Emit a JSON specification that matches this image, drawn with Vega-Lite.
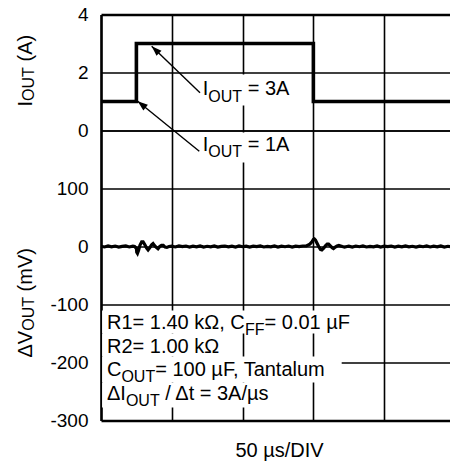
{
  "$schema": "https://vega.github.io/schema/vega-lite/v6.json",
  "padding": {"left": 16, "top": 5.5, "right": 0, "bottom": 0},
  "spacing": 0,
  "bounds": "flush",
  "config": {
    "font": "Liberation Sans",
    "view": {"stroke": null},
    "axis": {
      "labelFont": "Liberation Sans",
      "labelFontSize": 19,
      "labelColor": "black",
      "ticks": false,
      "tickSize": 0,
      "labelPadding": 13,
      "gridColor": "black",
      "gridOpacity": 1,
      "domainColor": "black",
      "domainWidth": 2.5
    }
  },
  "datasets": {
    "current": [
      {"t": 0, "i": 1}, {"t": 1, "i": 3}, {"t": 6, "i": 1}, {"t": 9.86, "i": 1}
    ],
    "vout": [
      {"t": 0, "v": 0.5}, {"t": 0.1, "v": -0.8}, {"t": 0.2, "v": 1}, {"t": 0.3, "v": -0.5}, {"t": 0.4, "v": 0.8},
      {"t": 0.5, "v": -1}, {"t": 0.6, "v": 0.3}, {"t": 0.7, "v": 1}, {"t": 0.8, "v": -0.8}, {"t": 0.9, "v": 0.5},
      {"t": 0.95, "v": 0}, {"t": 1.0, "v": -3}, {"t": 1.01, "v": -10}, {"t": 1.03, "v": -12}, {"t": 1.06, "v": -7},
      {"t": 1.1, "v": 2}, {"t": 1.15, "v": 8}, {"t": 1.19, "v": 8}, {"t": 1.24, "v": 3}, {"t": 1.29, "v": -3},
      {"t": 1.33, "v": -6}, {"t": 1.38, "v": -2}, {"t": 1.43, "v": 3}, {"t": 1.47, "v": 5}, {"t": 1.52, "v": 1},
      {"t": 1.57, "v": -2}, {"t": 1.61, "v": -4}, {"t": 1.66, "v": 0}, {"t": 1.71, "v": 2}, {"t": 1.76, "v": 2},
      {"t": 1.81, "v": -1}, {"t": 1.86, "v": -1.5}, {"t": 1.92, "v": 0},
      {"t": 2.0, "v": 0.5}, {"t": 2.1, "v": -0.8}, {"t": 2.2, "v": 1}, {"t": 2.3, "v": -0.3}, {"t": 2.4, "v": 0.8},
      {"t": 2.5, "v": -1}, {"t": 2.6, "v": 0.6}, {"t": 2.7, "v": -0.5}, {"t": 2.8, "v": 1.1}, {"t": 2.9, "v": -0.9},
      {"t": 3.0, "v": 0.4}, {"t": 3.1, "v": -0.6}, {"t": 3.2, "v": 0.9}, {"t": 3.3, "v": -1.1}, {"t": 3.4, "v": 0.2},
      {"t": 3.5, "v": 0.8}, {"t": 3.6, "v": -0.7}, {"t": 3.7, "v": 0.5}, {"t": 3.8, "v": -0.9}, {"t": 3.9, "v": 1},
      {"t": 4.0, "v": -0.4}, {"t": 4.1, "v": 0.7}, {"t": 4.2, "v": -1}, {"t": 4.3, "v": 0.6}, {"t": 4.4, "v": -0.2},
      {"t": 4.5, "v": 0.9}, {"t": 4.6, "v": -0.8}, {"t": 4.7, "v": 0.3}, {"t": 4.8, "v": -0.6}, {"t": 4.9, "v": 1},
      {"t": 5.0, "v": -0.9}, {"t": 5.1, "v": 0.5}, {"t": 5.2, "v": -0.4}, {"t": 5.3, "v": 0.8}, {"t": 5.4, "v": -1},
      {"t": 5.5, "v": 0.6}, {"t": 5.6, "v": -0.3}, {"t": 5.7, "v": 0.9},
      {"t": 5.8, "v": 1}, {"t": 5.9, "v": 4}, {"t": 5.96, "v": 8}, {"t": 6.0, "v": 12}, {"t": 6.03, "v": 13},
      {"t": 6.06, "v": 11}, {"t": 6.1, "v": 6}, {"t": 6.15, "v": 0}, {"t": 6.2, "v": -5}, {"t": 6.24, "v": -6},
      {"t": 6.29, "v": -3}, {"t": 6.34, "v": 1}, {"t": 6.39, "v": 4}, {"t": 6.43, "v": 4}, {"t": 6.48, "v": 1},
      {"t": 6.53, "v": -2}, {"t": 6.57, "v": -3.5}, {"t": 6.62, "v": -1}, {"t": 6.67, "v": 1}, {"t": 6.72, "v": 2},
      {"t": 6.77, "v": 1}, {"t": 6.82, "v": 0}, {"t": 6.88, "v": -1}, {"t": 6.95, "v": 0},
      {"t": 7.0, "v": 0.6}, {"t": 7.1, "v": -0.9}, {"t": 7.2, "v": 0.8}, {"t": 7.3, "v": -0.4}, {"t": 7.4, "v": 1},
      {"t": 7.5, "v": -0.8}, {"t": 7.6, "v": 0.3}, {"t": 7.7, "v": -0.6}, {"t": 7.8, "v": 0.9}, {"t": 7.9, "v": -1},
      {"t": 8.0, "v": 0.5}, {"t": 8.1, "v": -0.3}, {"t": 8.2, "v": 0.8}, {"t": 8.3, "v": -0.9}, {"t": 8.4, "v": 0.6},
      {"t": 8.5, "v": -0.5}, {"t": 8.6, "v": 1}, {"t": 8.7, "v": -0.7}, {"t": 8.8, "v": 0.4}, {"t": 8.9, "v": -1},
      {"t": 9.0, "v": 0.7}, {"t": 9.1, "v": -0.4}, {"t": 9.2, "v": 0.9}, {"t": 9.3, "v": -0.8}, {"t": 9.4, "v": 0.5},
      {"t": 9.5, "v": -0.6}, {"t": 9.6, "v": 1}, {"t": 9.7, "v": -0.9}, {"t": 9.8, "v": 0.4}, {"t": 9.86, "v": -0.3}
    ],
    "topBoxes": [
      {"x": 2.797, "x2": 5.424, "y": 1.931, "y2": 0.862}
    ],
    "bottomBoxes": [
      {"x": 2.797, "x2": 5.424, "y": 196.6, "y2": 144.8},
      {"x": 0.03, "x2": 7.26, "y": -110.3, "y2": -150.0},
      {"x": 0.03, "x2": 3.59, "y": -150.0, "y2": -189.7},
      {"x": 0.03, "x2": 6.8, "y": -189.7, "y2": -234.5},
      {"x": 0.03, "x2": 4.83, "y": -234.5, "y2": -277.6}
    ],
    "arrows": [
      {"label": "3A", "x": 2.797, "y": 1.30, "x2": 1.432, "y2": 2.907},
      {"label": "1A", "x": 2.777, "y": -0.714, "x2": 1.037, "y2": 1.010}
    ],
    "topText": [
      {"x": 2.873, "y": 1.241, "text": "I", "kind": "main"},
      {"x": 3.031, "y": 1.241, "text": "OUT", "kind": "sub"},
      {"x": 4.144, "y": 1.241, "text": "= 3A", "kind": "main"},
      {"x": -1.949, "y": 0.828, "text": "I", "kind": "tmain"},
      {"x": -1.949, "y": 1.021, "text": "OUT", "kind": "tsub"},
      {"x": -1.949, "y": 2.379, "text": "(A)", "kind": "tmain"}
    ],
    "bottomText": [
      {"x": 2.873, "y": 163.8, "text": "I", "kind": "main"},
      {"x": 3.031, "y": 163.8, "text": "OUT", "kind": "sub"},
      {"x": 4.144, "y": 163.8, "text": "= 1A", "kind": "main"},
      {"x": 0.169, "y": -141.4, "text": "R1= 1.40 kΩ, C", "kind": "main"},
      {"x": 4.07, "y": -141.4, "text": "FF", "kind": "sub"},
      {"x": 4.62, "y": -141.4, "text": "= 0.01 µF", "kind": "main"},
      {"x": 0.169, "y": -182.8, "text": "R2= 1.00 kΩ", "kind": "main"},
      {"x": 0.169, "y": -224.1, "text": "C", "kind": "main"},
      {"x": 0.576, "y": -224.1, "text": "OUT", "kind": "sub"},
      {"x": 1.531, "y": -224.1, "text": "= 100 µF, Tantalum", "kind": "main"},
      {"x": 0.169, "y": -263.8, "text": "ΔI", "kind": "main"},
      {"x": 0.703, "y": -263.8, "text": "OUT", "kind": "sub"},
      {"x": 1.816, "y": -263.8, "text": "/ Δt = 3A/µs", "kind": "main"},
      {"x": -1.949, "y": -191.4, "text": "ΔV", "kind": "tmain"},
      {"x": -1.949, "y": -145.3, "text": "OUT", "kind": "tsub"},
      {"x": -1.949, "y": -77.4, "text": "(mV)", "kind": "tmain"}
    ]
  },
  "vconcat": [
    {
      "width": 349,
      "height": 116,
      "layer": [
        {
          "data": {"name": "topBoxes"},
          "mark": {"type": "rect", "fill": "white", "clip": false},
          "encoding": {
            "x": {"field": "x", "type": "quantitative", "scale": {"domain": [0, 9.86], "nice": false},
              "axis": {"values": [0, 1, 2, 3, 4, 5, 6, 7, 8, 9], "labels": false, "domain": false, "grid": true, "gridWidth": 1.6, "title": null}},
            "x2": {"field": "x2"},
            "y": {"field": "y", "type": "quantitative", "scale": {"domain": [0, 4], "nice": false},
              "axis": {"values": [0, 2, 4], "grid": true, "gridWidth": {"condition": {"test": "datum.value == 4", "value": 2.5}, "value": 1.7}, "labelExpr": "'' + datum.value", "title": null}},
            "y2": {"field": "y2"}
          }
        },
        {
          "data": {"name": "current"},
          "mark": {"type": "line", "interpolate": "step-after", "color": "black", "strokeWidth": 3.6, "clip": false},
          "encoding": {
            "x": {"field": "t", "type": "quantitative"},
            "y": {"field": "i", "type": "quantitative"}
          }
        },
        {
          "data": {"name": "arrows"},
          "mark": {"type": "rule", "color": "black", "strokeWidth": 1.4, "clip": false},
          "encoding": {
            "x": {"field": "x", "type": "quantitative"},
            "y": {"field": "y", "type": "quantitative"},
            "x2": {"field": "x2"},
            "y2": {"field": "y2"}
          }
        },
        {
          "data": {"name": "arrows"},
          "transform": [{"filter": "datum.label == '3A'"}],
          "mark": {"type": "point", "shape": "M0,0L-1.2,3.4L1.2,3.4Z", "size": 36, "filled": true, "color": "black", "opacity": 1, "angle": 314, "clip": false},
          "encoding": {
            "x": {"field": "x2", "type": "quantitative"},
            "y": {"field": "y2", "type": "quantitative"}
          }
        },
        {
          "data": {"name": "arrows"},
          "transform": [{"filter": "datum.label == '1A'"}],
          "mark": {"type": "point", "shape": "M0,0L-1.2,3.4L1.2,3.4Z", "size": 36, "filled": true, "color": "black", "opacity": 1, "angle": 309, "clip": false},
          "encoding": {
            "x": {"field": "x2", "type": "quantitative"},
            "y": {"field": "y2", "type": "quantitative"}
          }
        },
        {
          "data": {"name": "topText"},
          "transform": [{"filter": "datum.kind == 'main'"}],
          "mark": {"type": "text", "align": "left", "baseline": "alphabetic", "fontSize": 20, "fill": "black", "clip": false},
          "encoding": {
            "x": {"field": "x", "type": "quantitative"},
            "y": {"field": "y", "type": "quantitative"},
            "text": {"field": "text"}
          }
        },
        {
          "data": {"name": "topText"},
          "transform": [{"filter": "datum.kind == 'sub'"}],
          "mark": {"type": "text", "align": "left", "baseline": "alphabetic", "fontSize": 16, "dy": 7, "fill": "black", "clip": false},
          "encoding": {
            "x": {"field": "x", "type": "quantitative"},
            "y": {"field": "y", "type": "quantitative"},
            "text": {"field": "text"}
          }
        },
        {
          "data": {"name": "topText"},
          "transform": [{"filter": "datum.kind == 'tmain'"}],
          "mark": {"type": "text", "align": "left", "baseline": "alphabetic", "angle": 270, "fontSize": 20, "fill": "black", "clip": false},
          "encoding": {
            "x": {"field": "x", "type": "quantitative"},
            "y": {"field": "y", "type": "quantitative"},
            "text": {"field": "text"}
          }
        },
        {
          "data": {"name": "topText"},
          "transform": [{"filter": "datum.kind == 'tsub'"}],
          "mark": {"type": "text", "align": "left", "baseline": "alphabetic", "angle": 270, "fontSize": 16, "dy": 2, "fill": "black", "clip": false},
          "encoding": {
            "x": {"field": "x", "type": "quantitative"},
            "y": {"field": "y", "type": "quantitative"},
            "text": {"field": "text"}
          }
        }
      ]
    },
    {
      "width": 349,
      "height": 290,
      "layer": [
        {
          "data": {"name": "bottomBoxes"},
          "mark": {"type": "rect", "fill": "white", "clip": false},
          "encoding": {
            "x": {"field": "x", "type": "quantitative", "scale": {"domain": [0, 9.86], "nice": false},
              "axis": {"values": [0, 1, 2, 3, 4, 5, 6, 7, 8, 9], "labels": false, "domain": false, "grid": true, "gridWidth": 1.6,
                "title": "50 µs/DIV", "titleFont": "Liberation Sans", "titleFontSize": 20, "titleFontWeight": "normal", "titleColor": "black",
                "titleX": 178, "titleY": 36, "titleBaseline": "alphabetic", "titleAlign": "center"}},
            "x2": {"field": "x2"},
            "y": {"field": "y", "type": "quantitative", "scale": {"domain": [-300, 200], "nice": false},
              "axis": {"values": [-300, -200, -100, 0, 100, 200], "grid": true, "gridWidth": {"condition": {"test": "datum.value == -300", "value": 2.5}, "value": 1.7}, "labelExpr": "datum.value == 200 ? '' : '' + datum.value", "title": null}},
            "y2": {"field": "y2"}
          }
        },
        {
          "data": {"name": "vout"},
          "mark": {"type": "line", "color": "black", "strokeWidth": 3.2, "clip": false},
          "encoding": {
            "x": {"field": "t", "type": "quantitative"},
            "y": {"field": "v", "type": "quantitative"}
          }
        },
        {
          "data": {"name": "bottomText"},
          "transform": [{"filter": "datum.kind == 'main'"}],
          "mark": {"type": "text", "align": "left", "baseline": "alphabetic", "fontSize": 20, "fill": "black", "clip": false},
          "encoding": {
            "x": {"field": "x", "type": "quantitative"},
            "y": {"field": "y", "type": "quantitative"},
            "text": {"field": "text"}
          }
        },
        {
          "data": {"name": "bottomText"},
          "transform": [{"filter": "datum.kind == 'sub'"}],
          "mark": {"type": "text", "align": "left", "baseline": "alphabetic", "fontSize": 16, "dy": 6, "fill": "black", "clip": false},
          "encoding": {
            "x": {"field": "x", "type": "quantitative"},
            "y": {"field": "y", "type": "quantitative"},
            "text": {"field": "text"}
          }
        },
        {
          "data": {"name": "bottomText"},
          "transform": [{"filter": "datum.kind == 'tmain'"}],
          "mark": {"type": "text", "align": "left", "baseline": "alphabetic", "angle": 270, "fontSize": 20, "fill": "black", "clip": false},
          "encoding": {
            "x": {"field": "x", "type": "quantitative"},
            "y": {"field": "y", "type": "quantitative"},
            "text": {"field": "text"}
          }
        },
        {
          "data": {"name": "bottomText"},
          "transform": [{"filter": "datum.kind == 'tsub'"}],
          "mark": {"type": "text", "align": "left", "baseline": "alphabetic", "angle": 270, "fontSize": 16, "dy": 2, "fill": "black", "clip": false},
          "encoding": {
            "x": {"field": "x", "type": "quantitative"},
            "y": {"field": "y", "type": "quantitative"},
            "text": {"field": "text"}
          }
        }
      ]
    }
  ]
}
